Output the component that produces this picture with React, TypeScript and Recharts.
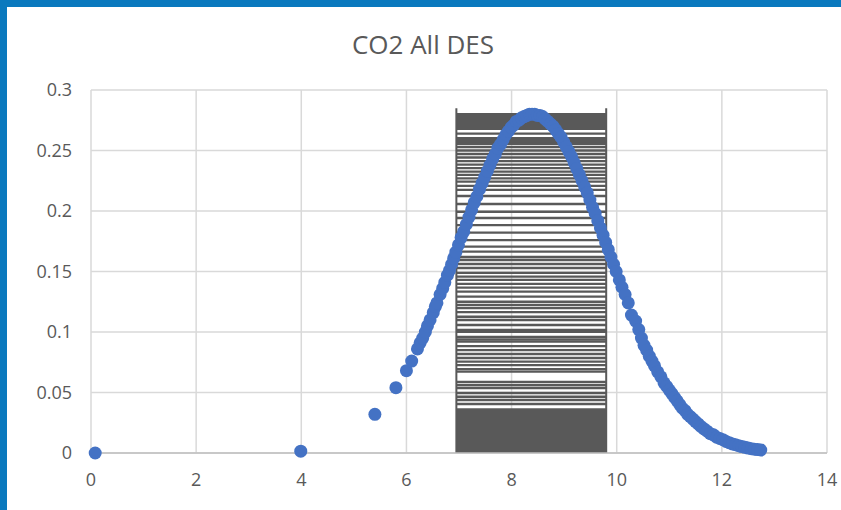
import React from "react";
import {
  ScatterChart,
  Scatter,
  XAxis,
  YAxis,
  CartesianGrid,
  ReferenceArea,
  ReferenceLine,
} from "recharts";

// blue points
const xValues = [
  0.08, 3.99, 5.4, 5.8, 6.0, 6.1, 6.21, 6.26, 6.31, 6.36, 6.4, 6.45, 6.51, 6.55,
  6.58, 6.64, 6.69, 6.73, 6.78, 6.82, 6.86, 6.9, 6.94, 6.99, 7.04, 7.09, 7.14,
  7.19, 7.24, 7.29, 7.34, 7.39, 7.44, 7.49, 7.54, 7.59, 7.64, 7.69, 7.74, 7.79,
  7.84, 7.89, 7.94, 7.99, 8.04, 8.09, 8.14, 8.19, 8.24, 8.29, 8.34, 8.39, 8.44,
  8.49, 8.54, 8.59, 8.64, 8.69, 8.74, 8.79, 8.84, 8.89, 8.94, 8.99, 9.04, 9.09,
  9.14, 9.19, 9.24, 9.29, 9.34, 9.39, 9.44, 9.49, 9.54, 9.59, 9.64, 9.69, 9.74,
  9.79, 9.84, 9.89, 9.94, 9.99, 10.05, 10.1, 10.16, 10.22, 10.28, 10.36, 10.42,
  10.47, 10.52, 10.57, 10.62, 10.67, 10.72, 10.78, 10.84, 10.9, 10.95, 11.0,
  11.05, 11.1, 11.15, 11.2, 11.25, 11.3, 11.35, 11.4, 11.45, 11.5, 11.55, 11.6,
  11.66, 11.72, 11.78, 11.84, 11.9, 11.96, 12.02, 12.08, 12.14, 12.2, 12.26,
  12.32, 12.38, 12.44, 12.5, 12.56, 12.62, 12.68, 12.74,
];

const yValues = [
  0.0, 0.0015, 0.032, 0.054, 0.068, 0.076, 0.086, 0.091, 0.095, 0.1, 0.105,
  0.11, 0.116, 0.121, 0.124, 0.131, 0.136, 0.141, 0.147, 0.151, 0.156, 0.161,
  0.166, 0.172, 0.178, 0.183, 0.189, 0.195, 0.201, 0.207, 0.212, 0.218, 0.223,
  0.228, 0.233, 0.238, 0.243, 0.247, 0.252, 0.255, 0.259, 0.263, 0.266, 0.269,
  0.271, 0.274, 0.275, 0.277, 0.278, 0.279, 0.28, 0.28, 0.28, 0.279, 0.279,
  0.278, 0.276, 0.274, 0.272, 0.27, 0.267, 0.264, 0.261, 0.257, 0.253, 0.249,
  0.245, 0.24, 0.235, 0.23, 0.225, 0.22, 0.215, 0.209, 0.203, 0.198, 0.192,
  0.186, 0.18, 0.174, 0.168, 0.162, 0.156, 0.15, 0.143, 0.137, 0.131, 0.124,
  0.114, 0.109, 0.102, 0.095, 0.089, 0.085, 0.08, 0.076, 0.072, 0.067, 0.063,
  0.058, 0.055, 0.052, 0.049, 0.046, 0.043, 0.04, 0.037, 0.035, 0.032, 0.03,
  0.028, 0.026, 0.024, 0.022, 0.02, 0.018, 0.016, 0.015, 0.013, 0.012, 0.011,
  0.0095, 0.0085, 0.0075, 0.0068, 0.006, 0.0053, 0.0047, 0.0041, 0.0036,
  0.0032, 0.0028, 0.0025,
];

// the dark block of horizontal lines
const blockLeft = 6.95;
const blockRight = 9.8;
const blockTop = 0.281;
const blockEdgeTop = 0.285;
const solidBottom = [0, 0.037];
const solidTop = [0.267, blockTop];
const stripeLevels = [
  0.264, 0.2603, 0.2587, 0.257, 0.2554, 0.2529, 0.25, 0.2471, 0.2442, 0.2413,
  0.2384, 0.2355, 0.2326, 0.2298, 0.2269, 0.2242, 0.2207, 0.2174, 0.2124,
  0.2058, 0.1994, 0.1942, 0.1884, 0.1821, 0.176, 0.1705, 0.1664, 0.162, 0.1595,
  0.1562, 0.1529, 0.1488, 0.1457, 0.143, 0.1397, 0.1366, 0.1333, 0.1292, 0.125,
  0.1223, 0.1198, 0.1165, 0.1126, 0.1099, 0.1058, 0.1017, 0.1002, 0.0959,
  0.0938, 0.092, 0.0884, 0.0851, 0.0818, 0.0785, 0.0755, 0.0727, 0.0694,
  0.0672, 0.0587, 0.0562, 0.0537, 0.0496, 0.0465, 0.0438, 0.0405,
];

const xTicks = [0, 2, 4, 6, 8, 10, 12, 14];
const yTicks = [0, 0.05, 0.1, 0.15, 0.2, 0.25, 0.3];

const points = xValues.map((x, i) => ({ x, y: yValues[i] }));

const tickStyle = { fontFamily: "Open Sans", fontSize: 18, fill: "#595959" };

const Dot = (props: any) => (
  <circle cx={props.cx} cy={props.cy} r={6.5} fill="#4472C4" />
);

const App = () => {
  return (
    <div
      style={{
        position: "absolute",
        left: 0,
        top: 0,
        width: 841,
        height: 510,
        background: "#fff",
        overflow: "hidden",
      }}
    >
      <div
        style={{ position: "absolute", left: 0, top: 0, width: 841, height: 7, background: "#0A79BE" }}
      />
      <div
        style={{ position: "absolute", left: 0, top: 0, width: 7, height: 510, background: "#0A79BE" }}
      />
      <div
        style={{
          position: "absolute",
          left: 0,
          top: 26,
          width: 846,
          textAlign: "center",
          fontFamily: "Open Sans",
          fontSize: 26,
          color: "#595959",
        }}
      >
        CO2 All DES
      </div>

      <ScatterChart
        width={841}
        height={510}
        margin={{ top: 90, right: 14, bottom: 27, left: 0 }}
      >
        <CartesianGrid stroke="#d9d9d9" strokeWidth={1.5} />

        <XAxis
          type="number"
          dataKey="x"
          domain={[0, 14]}
          ticks={xTicks}
          tickSize={0}
          tickMargin={20}
          height={30}
          axisLine={{ stroke: "#bfbfbf", strokeWidth: 1.5 }}
          tick={tickStyle}
        />

        <YAxis
          type="number"
          dataKey="y"
          domain={[0, 0.3]}
          ticks={yTicks}
          tickSize={0}
          tickMargin={19}
          width={91}
          axisLine={false}
          tick={tickStyle}
        />

        <ReferenceArea
          x1={blockLeft}
          x2={blockRight}
          y1={solidBottom[0]}
          y2={solidBottom[1]}
          fill="#595959"
          fillOpacity={1}
          stroke="none"
        />

        <ReferenceArea
          x1={blockLeft}
          x2={blockRight}
          y1={solidTop[0]}
          y2={solidTop[1]}
          fill="#595959"
          fillOpacity={1}
          stroke="none"
        />

        {stripeLevels.map((v) => (
          <ReferenceLine
            key={v}
            segment={[
              { x: blockLeft, y: v },
              { x: blockRight, y: v },
            ]}
            stroke="#595959"
            strokeWidth={2.3}
          />
        ))}

        <ReferenceLine
          segment={[
            { x: blockLeft, y: 0 },
            { x: blockLeft, y: blockEdgeTop },
          ]}
          stroke="#595959"
          strokeWidth={2}
        />

        <ReferenceLine
          segment={[
            { x: blockRight, y: 0 },
            { x: blockRight, y: blockEdgeTop },
          ]}
          stroke="#595959"
          strokeWidth={2}
        />

        <Scatter data={points} shape={Dot} isAnimationActive={false} />
      </ScatterChart>
    </div>
  );
};

export default App;
